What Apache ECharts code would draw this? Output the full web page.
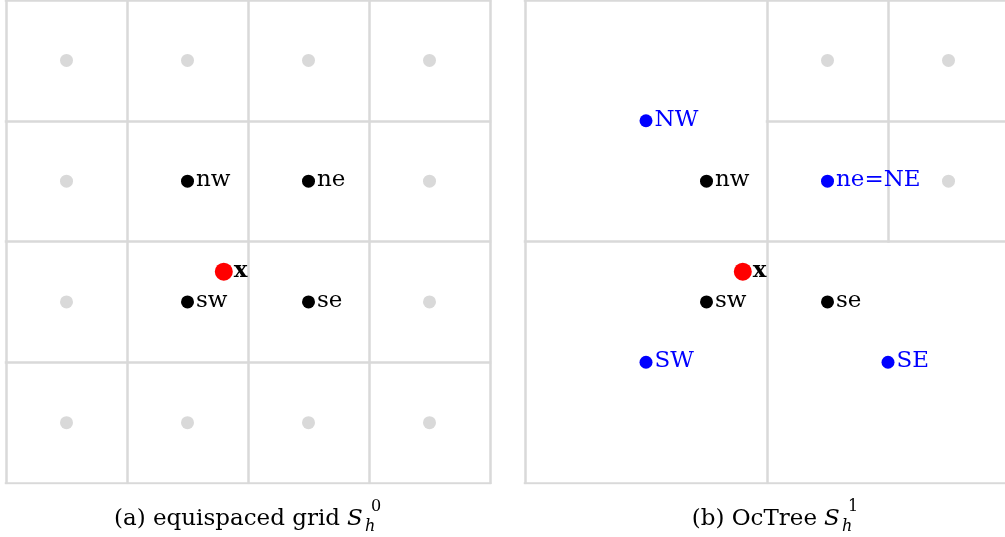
<!DOCTYPE html>
<html>
<head>
<meta charset="utf-8">
<script src="https://cdn.jsdelivr.net/npm/echarts@6/dist/echarts.min.js"></script>
<style>html,body{margin:0;padding:0;background:#fff;overflow:hidden;width:1005px;height:537px}#c{width:1009px;height:537px}</style>
</head>
<body>
<div id="c"></div>
<script>
// ---- data (cell units, 4x4 domain) ----
const leftCellEdges = [
  [0,0,4,0],[0,1,4,1],[0,2,4,2],[0,3,4,3],[0,4,4,4],
  [0,0,0,4],[1,0,1,4],[2,0,2,4],[3,0,3,4],[4,0,4,4]
];
const leftInactive = [
  [0.5,3.5],[1.5,3.5],[2.5,3.5],[3.5,3.5],
  [0.5,2.5],[3.5,2.5],
  [0.5,1.5],[3.5,1.5],
  [0.5,0.5],[1.5,0.5],[2.5,0.5],[3.5,0.5]
];
const leftNeighbours = [[1.5,2.5,'nw'],[2.5,2.5,'ne'],[1.5,1.5,'sw'],[2.5,1.5,'se']];
const queryPoint = [1.8,1.75,'x'];

const rightCellEdges = [
  [0,0,4,0],[0,4,4,4],[0,0,0,4],[4,0,4,4],
  [2,0,2,4],[0,2,4,2],[3,2,3,4],[2,3,4,3]
];
const rightInactive = [[2.5,3.5],[3.5,3.5],[3.5,2.5]];
const rightNeighbours = [[1.5,2.5,'nw'],[1.5,1.5,'sw'],[2.5,1.5,'se']];
const rightCoarse = [[1,3,'NW'],[2.5,2.5,'ne=NE'],[1,1,'SW'],[3,1,'SE']];

const captionA = ['(a) equispaced grid', 'S', 'h', '0'];
const captionB = ['(b) OcTree', 'S', 'h', '1'];

// ---- styling ----
const GREY = '#d9d9d9';
const FONT = 'DejaVu Serif';
const FS = 23;

function segs(list){ return list.map(s => ({coords: [[s[0],s[1]],[s[2],s[3]]]})); }
function pts(list){ return list.map(p => ({value:[p[0],p[1]], name: p[2] || ''})); }

function panelSeries(idx, edges, inactive, nodes, coarse){
  const out = [];
  out.push({type:'lines', coordinateSystem:'cartesian2d', xAxisIndex:idx, yAxisIndex:idx,
    polyline:false, silent:true, z:1,
    lineStyle:{color:GREY, width:2.5, opacity:1, cap:'square'}, data: segs(edges)});
  out.push({type:'scatter', xAxisIndex:idx, yAxisIndex:idx, symbolSize:13, z:2,
    itemStyle:{color:GREY, opacity:1}, data: pts(inactive)});
  out.push({type:'scatter', xAxisIndex:idx, yAxisIndex:idx, symbolSize:13, z:3,
    itemStyle:{color:'#000', opacity:1}, data: pts(nodes),
    label:{show:true, position:'right', distance:2, formatter:'{b}', color:'#000',
      fontFamily:FONT, fontSize:FS, offset:[0,-1]}});
  if (coarse) out.push({type:'scatter', xAxisIndex:idx, yAxisIndex:idx, symbolSize:13, z:4,
    itemStyle:{color:'#0000ff', opacity:1}, data: pts(coarse),
    label:{show:true, position:'right', distance:2, formatter:'{b}', color:'#0000ff',
      fontFamily:FONT, fontSize:FS, offset:[0,-1]}});
  out.push({type:'scatter', xAxisIndex:idx, yAxisIndex:idx, symbolSize:18, z:5,
    itemStyle:{color:'#ff0000', opacity:1}, data: pts([queryPoint]),
    label:{show:true, position:'right', distance:1, formatter:'{b}', color:'#000',
      fontFamily:FONT, fontSize:FS, fontWeight:'bold', offset:[0,-1]}});
  return out;
}

function caption(c, xEnd, y){
  const base = {fontFamily:FONT, fill:'#000'};
  return [
    {type:'text', x:xEnd, y:y, style:Object.assign({}, base, {text:c[0], fontSize:FS, align:'right', verticalAlign:'middle'})},
    {type:'text', x:xEnd+7, y:y, style:Object.assign({}, base, {text:c[1], fontSize:FS, fontStyle:'italic', align:'left', verticalAlign:'middle'})},
    {type:'text', x:xEnd+25, y:y+8, style:Object.assign({}, base, {text:c[2], fontSize:16, fontStyle:'italic', align:'left', verticalAlign:'middle'})},
    {type:'text', x:xEnd+31, y:y-12, style:Object.assign({}, base, {text:c[3], fontSize:16, align:'left', verticalAlign:'middle'})}
  ];
}

const axisCommon = {type:'value', min:0, max:4, show:false};
const chart = echarts.init(document.getElementById('c'), null, {renderer:'canvas', width:1009, height:537});
chart.setOption({
  animation:false,
  backgroundColor:'#fff',
  grid:[
    {left:6, top:0, width:484, height:483},
    {left:525, top:0, width:484, height:483}
  ],
  xAxis:[Object.assign({gridIndex:0}, axisCommon), Object.assign({gridIndex:1}, axisCommon)],
  yAxis:[Object.assign({gridIndex:0}, axisCommon), Object.assign({gridIndex:1}, axisCommon)],
  series: [].concat(
    panelSeries(0, leftCellEdges, leftInactive, leftNeighbours, null),
    panelSeries(1, rightCellEdges, rightInactive, rightNeighbours, rightCoarse)
  ),
  graphic: [].concat(caption(captionA, 340, 519), caption(captionB, 817, 519))
});
</script>
</body>
</html>
